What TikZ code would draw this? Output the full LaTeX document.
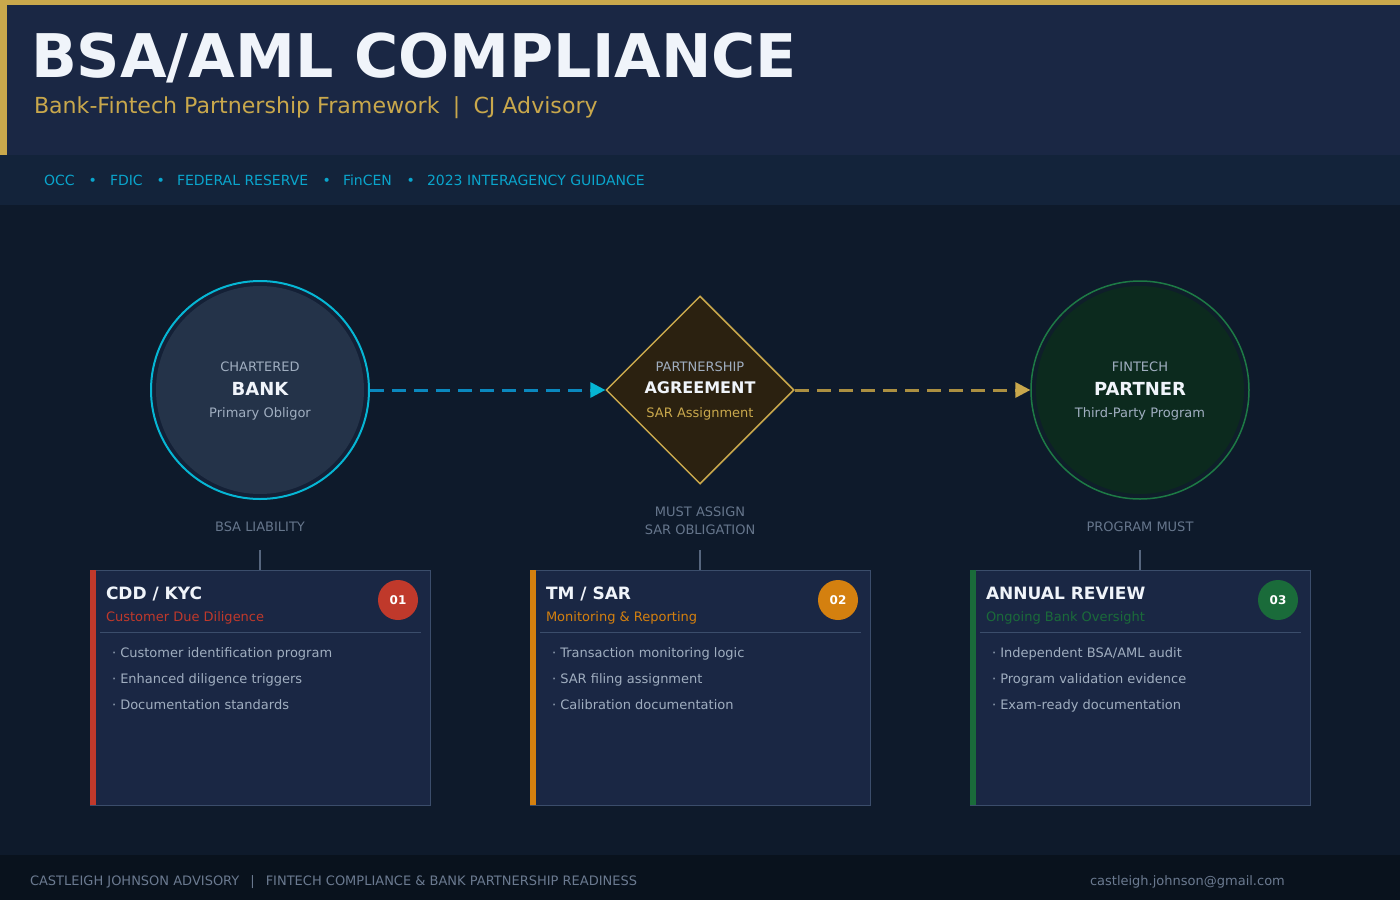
\documentclass[tikz,border=0pt]{standalone}
\usepackage{fontspec}
\setmainfont{DejaVu Sans}
\usetikzlibrary{shapes.geometric,arrows.meta}
\definecolor{bgmain}{HTML}{0E1A2B}
\definecolor{header}{HTML}{1A2744}
\definecolor{band}{HTML}{13233A}
\definecolor{footbg}{HTML}{09121D}
\definecolor{gold}{HTML}{C9A84C}
\definecolor{cyantxt}{HTML}{0AA5CC}
\definecolor{cyanring}{HTML}{06B6D4}
\definecolor{cyanline}{HTML}{0A88BE}
\definecolor{titlew}{HTML}{F0F4FA}
\definecolor{banksfill}{HTML}{243349}
\definecolor{ringgap}{HTML}{142036}
\definecolor{finfill}{HTML}{0C2A1E}
\definecolor{finring}{HTML}{1D7A45}
\definecolor{finnggap}{HTML}{0F1E2A}
\definecolor{diafill}{HTML}{2B2110}
\definecolor{graytxt}{HTML}{A0AEC0}
\definecolor{labeltxt}{HTML}{66768C}
\definecolor{cardfill}{HTML}{1A2744}
\definecolor{cardline}{HTML}{3B4D6B}
\definecolor{stemline}{HTML}{56667E}
\definecolor{redc}{HTML}{C0392B}
\definecolor{orangec}{HTML}{D4800F}
\definecolor{greenc}{HTML}{1A6B3A}
\definecolor{foottxt}{HTML}{6B7A90}
\newcommand\fsz[1]{\fontsize{#1}{#1}\selectfont}
\begin{document}
\begin{tikzpicture}[x=1pt,y=-1pt,
  txt/.style={inner sep=0pt, outer sep=0pt, anchor=base},
  txtw/.style={inner sep=0pt, outer sep=0pt, anchor=base west},
  bandtxt/.style={txtw, text=cyantxt, font=\fsz{14}},
  small/.style={txt, text=graytxt, font=\fsz{13}},
  big/.style={txt, text=titlew, font=\fsz{18}\bfseries},
  lbl/.style={txt, text=labeltxt, font=\fsz{13}},
  card/.style={draw=cardline, line width=1pt, fill=cardfill, minimum width=340pt, minimum height=235pt, inner sep=0pt},
  ctitle/.style={txtw, text=titlew, font=\fsz{17}\bfseries},
  csub/.style={txtw, font=\fsz{13}},
  bullet/.style={txtw, text=graytxt, font=\fsz{13}},
  badge/.style={circle, minimum size=40pt, inner sep=0pt, text=white, font=\fsz{12}\bfseries},
  stem/.style={draw=stemline, line width=1.2pt},
  flowa/.style={line width=3pt, dash pattern=on 14pt off 8pt},
]
\useasboundingbox (0,0) rectangle (1400,900);
% backgrounds
\fill[bgmain] (0,0) rectangle (1400,900);
\fill[header] (0,0) rectangle (1400,155);
\fill[gold] (0,0) rectangle (1400,5);
\fill[gold] (0,0) rectangle (7,155);
\fill[band] (0,155) rectangle (1400,205);
\fill[footbg] (0,855) rectangle (1400,900);

% header text
\node[txtw, text=titlew, font=\fsz{60.2}\bfseries] (title) at (31,77) {BSA/AML COMPLIANCE};
\node[txtw, text=gold, font=\fsz{22.1}] (subtitle) at (34,113) {Bank-Fintech Partnership Framework\hspace{0.6em}|\hspace{0.6em}CJ Advisory};

% band
\node[bandtxt] (b1) at (44,185.1) {OCC};
\node[bandtxt] (d1) at (88.5,185.1) {•};
\node[bandtxt] (b2) at (110,185.1) {FDIC};
\node[bandtxt] (d2) at (156.5,185.1) {•};
\node[bandtxt] (b3) at (177,185.1) {FEDERAL RESERVE};
\node[bandtxt] (d3) at (322.5,185.1) {•};
\node[bandtxt] (b4) at (343,185.1) {FinCEN};
\node[bandtxt] (d4) at (406.5,185.1) {•};
\node[bandtxt] (b5) at (427,185.1) {2023 INTERAGENCY GUIDANCE};

% bank circle
\node[circle, draw=cyanring, line width=2pt, fill=ringgap, minimum size=218pt, inner sep=0pt] (bank) at (260,390) {};
\node[circle, fill=banksfill, minimum size=208pt, inner sep=0pt] (bankin) at (260,390) {};
\node[small] (bank1) at (260,371.7) {CHARTERED};
\node[big] (bank2) at (260,395.6) {BANK};
\node[small] (bank3) at (260,417.5) {Primary Obligor};

% agreement diamond
\node[diamond, draw=gold, line width=1.5pt, fill=diafill, minimum width=188pt, minimum height=188pt, inner sep=0pt] (agree) at (700,390) {};
\node[small] (ag1) at (700,371.7) {PARTNERSHIP};
\node[txt, text=titlew, font=\fsz{16}\bfseries] (ag2) at (700,393.8) {AGREEMENT};
\node[txt, text=gold, font=\fsz{13}] (ag3) at (700,417.5) {SAR Assignment};

% fintech circle
\node[circle, draw=finring, line width=1.5pt, fill=finnggap, minimum size=218pt, inner sep=0pt] (fin) at (1140,390) {};
\node[circle, fill=finfill, minimum size=208pt, inner sep=0pt] (finin) at (1140,390) {};
\node[small] (fin1) at (1140,371.7) {FINTECH};
\node[big] (fin2) at (1140,395.6) {PARTNER};
\node[small] (fin3) at (1140,417.5) {Third-Party Program};

% flows
\draw[flowa, draw=cyanline, -{Triangle[length=15pt,width=16pt,color=cyanring,line width=0pt]}] (bank.east) -- (agree.west);
\draw[flowa, draw=gold!85!black, -{Triangle[length=15pt,width=16pt,color=gold,line width=0pt]}] (agree.east) -- (fin.west);

% labels
\node[lbl] (l1) at (260,531.7) {BSA LIABILITY};
\node[lbl] (l2a) at (700,516.7) {MUST ASSIGN};
\node[lbl] (l2b) at (700,534.7) {SAR OBLIGATION};
\node[lbl] (l3) at (1140,531.7) {PROGRAM MUST};

% cards
\node[card] (c1) at (260,687.5) {};
\node[card] (c2) at (700,687.5) {};
\node[card] (c3) at (1140,687.5) {};
\fill[redc] (c1.north west) rectangle ++(6,235);
\fill[orangec] (c2.north west) rectangle ++(6,235);
\fill[greenc] (c3.north west) rectangle ++(6,235);

% stems
\coordinate (s1) at (260,550);
\coordinate (s2) at (700,550);
\coordinate (s3) at (1140,550);
\draw[stem] (s1) -- (c1.north);
\draw[stem] (s2) -- (c2.north);
\draw[stem] (s3) -- (c3.north);

% card 1
\node[ctitle] (c1t) at (106,599.2) {CDD / KYC};
\node[csub, text=redc] (c1s) at (106,621.7) {Customer Due Diligence};
\node[badge, fill=redc] (c1b) at (398,600) {01};
\draw[cardline, line width=1pt] (100,632) -- (421,632);
\node[bullet] (c1a) at (112,657.5) {· Customer identification program};
\node[bullet] (c1c) at (112,683.5) {· Enhanced diligence triggers};
\node[bullet] (c1d) at (112,709.5) {· Documentation standards};

% card 2
\node[ctitle] (c2t) at (546,599.2) {TM / SAR};
\node[csub, text=orangec] (c2s) at (546,621.7) {Monitoring \& Reporting};
\node[badge, fill=orangec] (c2b) at (838,600) {02};
\draw[cardline, line width=1pt] (540,632) -- (861,632);
\node[bullet] (c2a) at (552,657.5) {· Transaction monitoring logic};
\node[bullet] (c2c) at (552,683.5) {· SAR filing assignment};
\node[bullet] (c2d) at (552,709.5) {· Calibration documentation};

% card 3
\node[ctitle] (c3t) at (986,599.2) {ANNUAL REVIEW};
\node[csub, text=greenc] (c3s) at (986,621.7) {Ongoing Bank Oversight};
\node[badge, fill=greenc] (c3b) at (1278,600) {03};
\draw[cardline, line width=1pt] (980,632) -- (1301,632);
\node[bullet] (c3a) at (992,657.5) {· Independent BSA/AML audit};
\node[bullet] (c3c) at (992,683.5) {· Program validation evidence};
\node[bullet] (c3d) at (992,709.5) {· Exam-ready documentation};

% footer
\node[txtw, text=foottxt, font=\fsz{13}] (f1) at (30,885) {CASTLEIGH JOHNSON ADVISORY\hspace{11pt}|\hspace{11pt}FINTECH COMPLIANCE \& BANK PARTNERSHIP READINESS};
\node[txtw, text=foottxt, font=\fsz{13}] (f2) at (1090,885) {castleigh.johnson@gmail.com};
\end{tikzpicture}
\end{document}
